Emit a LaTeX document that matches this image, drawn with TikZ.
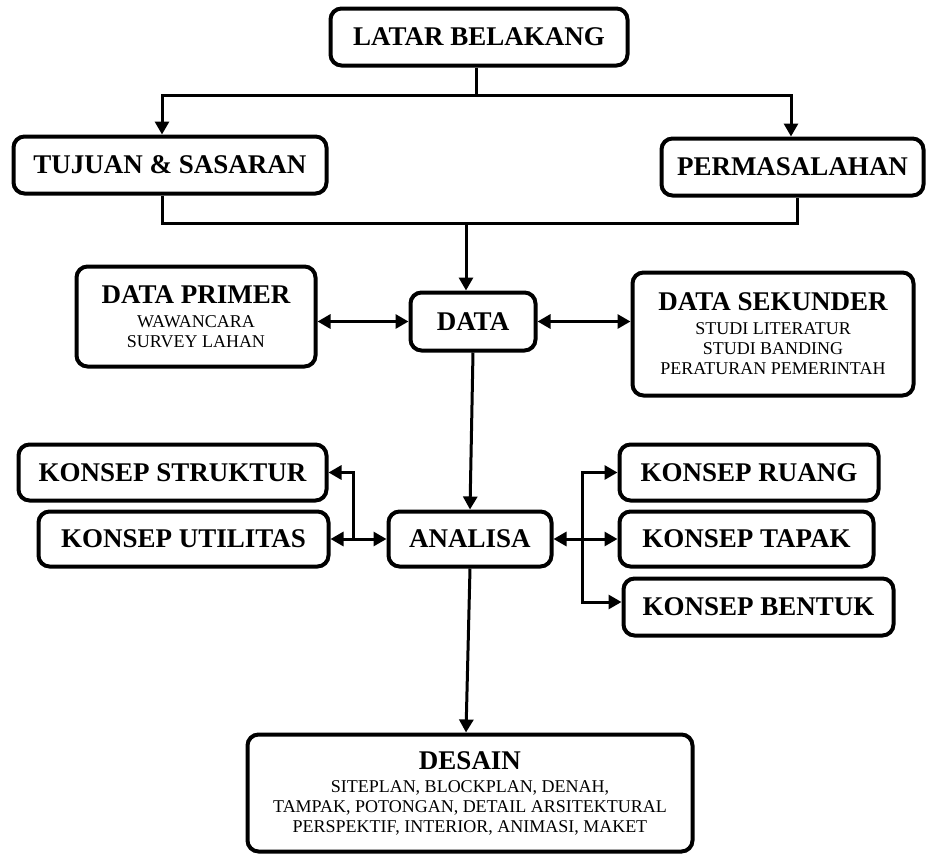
\documentclass[tikz,border=0pt]{standalone}
\usepackage{fontspec}
\setmainfont{Liberation Serif}
\usetikzlibrary{arrows.meta,positioning}

\newcommand{\judul}{\fontsize{13.5}{16}\selectfont\bfseries}
\newcommand{\isi}{\fontsize{9}{10}\selectfont\mdseries}

\begin{document}
\begin{tikzpicture}[x=0.5pt,y=-0.5pt,>={Triangle[length=6.5pt,width=7pt]},line width=1.5pt,
    kotak/.style={draw,line width=2pt,rounded corners=5.5pt,align=center,inner sep=0pt,font=\judul},
    kotak isi/.style={kotak,font=\isi}]

                \useasboundingbox (0,0) rectangle (927,857);

                \node[kotak, minimum width=148.5pt, minimum height=28.5pt] (latar) at (479,37) {LATAR BELAKANG};
                \node[kotak, minimum width=156.5pt, minimum height=28.5pt] (tujuan) at (170,165) {TUJUAN \& SASARAN};
                \node[kotak, minimum width=131pt, minimum height=28.5pt] (masalah) at (792.5,167) {PERMASALAHAN};
                \node[kotak isi, minimum width=119.5pt, minimum height=50pt] (primer) at (196,316.5) {{\judul DATA PRIMER}\\[2pt]WAWANCARA\\SURVEY LAHAN};
                \node[kotak, minimum width=62.5pt, minimum height=29pt] (data) at (473,321.5) {DATA};
                \node[kotak isi, minimum width=140.5pt, minimum height=61.5pt] (sekunder) at (773,334) {{\judul DATA SEKUNDER}\\[2pt]STUDI LITERATUR\\STUDI BANDING\\PERATURAN PEMERINTAH};
                \node[kotak, minimum width=154pt, minimum height=28pt] (struktur) at (172.5,472.5) {KONSEP STRUKTUR};
                \node[kotak, minimum width=145pt, minimum height=27.5pt] (utilitas) at (183.5,539) {KONSEP UTILITAS};
                \node[kotak, minimum width=81.5pt, minimum height=27.5pt] (analisa) at (470,539) {ANALISA};
                \node[kotak, minimum width=129.5pt, minimum height=28pt] (ruang) at (749,472.5) {KONSEP RUANG};
                \node[kotak, minimum width=127pt, minimum height=27.5pt] (tapak) at (746.5,539) {KONSEP TAPAK};
                \node[kotak, minimum width=135pt, minimum height=28.5pt] (bentuk) at (758.5,607) {KONSEP BENTUK};
                \node[kotak isi, minimum width=222.5pt, minimum height=58.5pt] (desain) at (470,793) {{\judul DESAIN}\\[1.5pt]SITEPLAN, BLOCKPLAN, DENAH,\\TAMPAK, POTONGAN, DETAIL ARSITEKTURAL\\PERSPEKTIF, INTERIOR, ANIMASI, MAKET};

                \coordinate (bagi) at (476,95);
                \coordinate (gabung) at (466,223);
                \coordinate (gabungkiri) at (162,223);
                \coordinate (gabungkanan) at (797,223);
                \coordinate (cabangkiri) at (353,539);
                \coordinate (cabangkanan) at (582,539);

                \draw[-] ([xshift=-1.5pt]latar.south) -- (bagi);
                \draw[->] (bagi) -| ([xshift=-4pt]tujuan.north);
                \draw[->] (bagi) -| ([xshift=-0.75pt]masalah.north);
                \draw[-] ([xshift=-4pt]tujuan.south) -- (gabungkiri) -- (gabungkanan) -- ([xshift=2.25pt]masalah.south);
                \draw[->] (gabung) -- ([xshift=-3.5pt]data.north);
                \draw[<->] (primer.east |- data.west) -- (data.west);
                \draw[<->] (data.east) -- (data.east -| sekunder.west);
                \draw[->] (data.south) -- (analisa.north);
                \draw[<->] (utilitas.east) -- (analisa.west);
                \draw[->] (cabangkiri) |- (struktur.east);
                \draw[<->] (analisa.east) -- (tapak.west);
                \draw[->] (cabangkanan) |- (ruang.west);
                \draw[->] (cabangkanan) |- ([yshift=2.5pt]bentuk.west);
                \draw[->] (analisa.south) -- ([xshift=-2pt]desain.north);

            \end{tikzpicture}
\end{document}
